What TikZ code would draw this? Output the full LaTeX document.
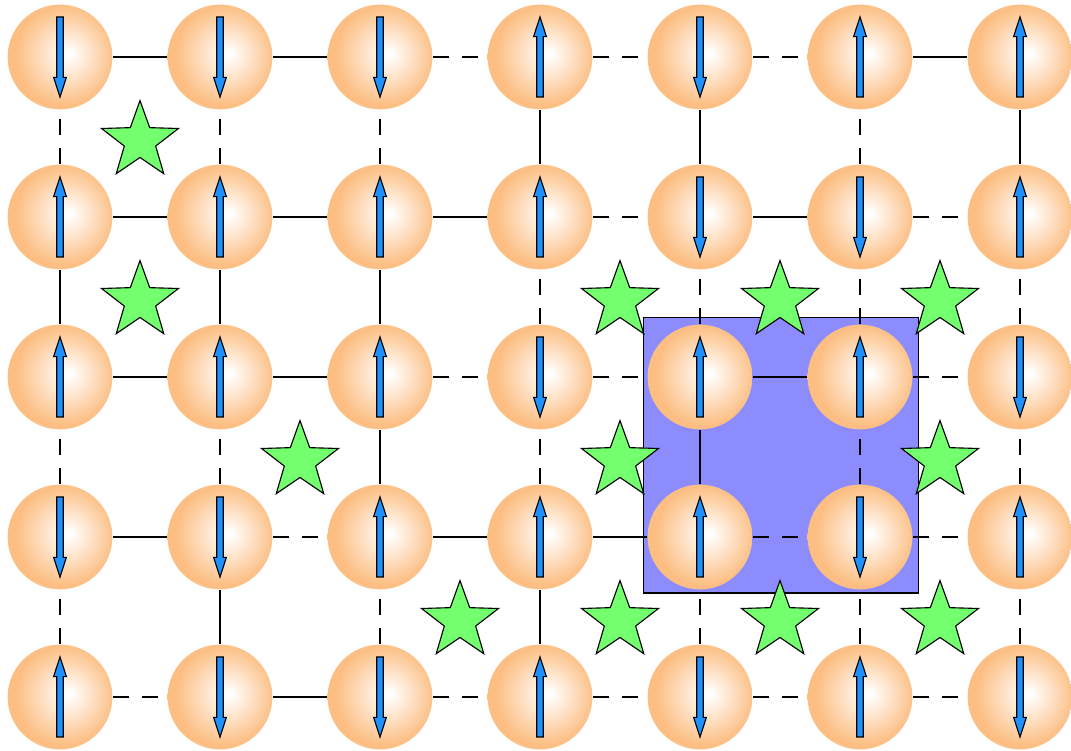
\documentclass[tikz,border=0pt]{standalone}
\usetikzlibrary{shapes.geometric,backgrounds}
\definecolor{ballrim}{RGB}{252,190,130}
\definecolor{spinblue}{RGB}{30,144,255}
\definecolor{stargreen}{RGB}{115,255,110}
\definecolor{cellblue}{RGB}{140,140,255}
\pgfdeclareradialshading{sphere}{\pgfpoint{4.5bp}{1.5bp}}{color(0bp)=(white); color(1bp)=(white); color(24bp)=(ballrim); color(50bp)=(ballrim)}
\tikzset{
  ball/.style={circle, minimum size=1.31cm, inner sep=0pt, shading=sphere},
  spinup/.style={ball, path picture={
    \begin{scope}[shift={(path picture bounding box.center)}]
      \draw[fill=spinblue, line width=0.4pt] (-0.041,-0.5) -- (-0.041,0.255) -- (-0.08,0.255) -- (0,0.5) -- (0.08,0.255) -- (0.041,0.255) -- (0.041,-0.5) -- cycle;
    \end{scope}}},
  spindown/.style={ball, path picture={
    \begin{scope}[shift={(path picture bounding box.center)}]
      \draw[fill=spinblue, line width=0.4pt] (-0.041,0.5) -- (-0.041,-0.255) -- (-0.08,-0.255) -- (0,-0.5) -- (0.08,-0.255) -- (0.041,-0.255) -- (0.041,0.5) -- cycle;
    \end{scope}}},
  samebond/.style={line width=0.85pt},
  oppbond/.style={line width=0.85pt, dash pattern=on 5.7pt off 4.6pt},
  defect/.style={star, star points=5, star point ratio=2.45, minimum size=1.01cm, inner sep=0pt, draw, line width=0.4pt, fill=stargreen}
}
\begin{document}
\begin{tikzpicture}
        \useasboundingbox (-0.75,-0.675) rectangle (12.6375,8.7125);
        % Spins (top row first)
        \node[spindown] (n04) at (0,8) {}; \node[spindown] (n14) at (2,8) {}; \node[spindown] (n24) at (4,8) {}; \node[spinup] (n34) at (6,8) {}; \node[spindown] (n44) at (8,8) {}; \node[spinup] (n54) at (10,8) {}; \node[spinup] (n64) at (12,8) {};
        \node[spinup] (n03) at (0,6) {}; \node[spinup] (n13) at (2,6) {}; \node[spinup] (n23) at (4,6) {}; \node[spinup] (n33) at (6,6) {}; \node[spindown] (n43) at (8,6) {}; \node[spindown] (n53) at (10,6) {}; \node[spinup] (n63) at (12,6) {};
        \node[spinup] (n02) at (0,4) {}; \node[spinup] (n12) at (2,4) {}; \node[spinup] (n22) at (4,4) {}; \node[spindown] (n32) at (6,4) {}; \node[spinup] (n42) at (8,4) {}; \node[spinup] (n52) at (10,4) {}; \node[spindown] (n62) at (12,4) {};
        \node[spindown] (n01) at (0,2) {}; \node[spindown] (n11) at (2,2) {}; \node[spinup] (n21) at (4,2) {}; \node[spinup] (n31) at (6,2) {}; \node[spinup] (n41) at (8,2) {}; \node[spindown] (n51) at (10,2) {}; \node[spinup] (n61) at (12,2) {};
        \node[spinup] (n00) at (0,0) {}; \node[spindown] (n10) at (2,0) {}; \node[spindown] (n20) at (4,0) {}; \node[spinup] (n30) at (6,0) {}; \node[spindown] (n40) at (8,0) {}; \node[spinup] (n50) at (10,0) {}; \node[spindown] (n60) at (12,0) {};
        \begin{scope}[on background layer]
        % Cluster
        \draw[fill=cellblue, line width=0.4pt] ([xshift=-0.71cm,yshift=-0.7cm]n41.center) rectangle ([xshift=0.73cm,yshift=0.74cm]n52.center);
        % Horizontal bonds
        \draw[samebond] (n04) -- (n14); \draw[samebond] (n14) -- (n24); \draw[oppbond] (n24) -- (n34); \draw[oppbond] (n34) -- (n44); \draw[oppbond] (n44) -- (n54); \draw[samebond] (n54) -- (n64);
        \draw[samebond] (n03) -- (n13); \draw[samebond] (n13) -- (n23); \draw[samebond] (n23) -- (n33); \draw[oppbond] (n33) -- (n43); \draw[samebond] (n43) -- (n53); \draw[oppbond] (n53) -- (n63);
        \draw[samebond] (n02) -- (n12); \draw[samebond] (n12) -- (n22); \draw[oppbond] (n22) -- (n32); \draw[oppbond] (n32) -- (n42); \draw[samebond] (n42) -- (n52); \draw[oppbond] (n52) -- (n62);
        \draw[samebond] (n01) -- (n11); \draw[oppbond] (n11) -- (n21); \draw[samebond] (n21) -- (n31); \draw[samebond] (n31) -- (n41); \draw[oppbond] (n41) -- (n51); \draw[oppbond] (n51) -- (n61);
        \draw[oppbond] (n00) -- (n10); \draw[samebond] (n10) -- (n20); \draw[oppbond] (n20) -- (n30); \draw[oppbond] (n30) -- (n40); \draw[oppbond] (n40) -- (n50); \draw[oppbond] (n50) -- (n60);
        % Vertical bonds
        \draw[oppbond] (n00) -- (n01); \draw[oppbond] (n01) -- (n02); \draw[samebond] (n02) -- (n03); \draw[oppbond] (n03) -- (n04);
        \draw[samebond] (n10) -- (n11); \draw[oppbond] (n11) -- (n12); \draw[samebond] (n12) -- (n13); \draw[oppbond] (n13) -- (n14);
        \draw[oppbond] (n20) -- (n21); \draw[samebond] (n21) -- (n22); \draw[samebond] (n22) -- (n23); \draw[oppbond] (n23) -- (n24);
        \draw[samebond] (n30) -- (n31); \draw[oppbond] (n31) -- (n32); \draw[oppbond] (n32) -- (n33); \draw[samebond] (n33) -- (n34);
        \draw[oppbond] (n40) -- (n41); \draw[samebond] (n41) -- (n42); \draw[oppbond] (n42) -- (n43); \draw[samebond] (n43) -- (n44);
        \draw[oppbond] (n50) -- (n51); \draw[oppbond] (n51) -- (n52); \draw[oppbond] (n52) -- (n53); \draw[oppbond] (n53) -- (n54);
        \draw[oppbond] (n60) -- (n61); \draw[oppbond] (n61) -- (n62); \draw[oppbond] (n62) -- (n63); \draw[samebond] (n63) -- (n64);
        \end{scope}
        % Frustrated plaquettes
        \node[defect] (d1) at (1,6.95) {};
        \node[defect] (d2) at (1,4.95) {}; \node[defect] (d3) at (7,4.95) {}; \node[defect] (d4) at (9,4.95) {}; \node[defect] (d5) at (11,4.95) {};
        \node[defect] (d6) at (3,2.95) {}; \node[defect] (d7) at (7,2.95) {}; \node[defect] (d8) at (11,2.95) {};
        \node[defect] (d9) at (5,0.95) {}; \node[defect] (d10) at (7,0.95) {}; \node[defect] (d11) at (9,0.95) {}; \node[defect] (d12) at (11,0.95) {};
\end{tikzpicture}
\end{document}
